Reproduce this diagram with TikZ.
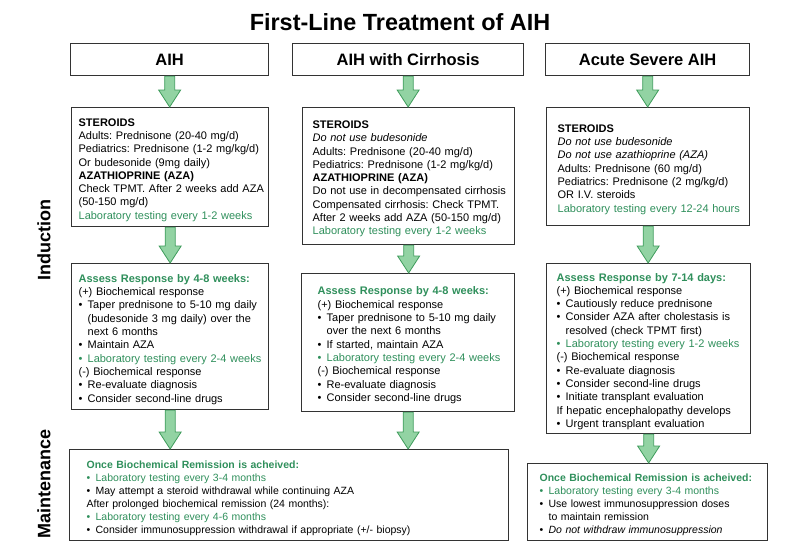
\documentclass[tikz,border=0pt]{standalone}
\usepackage{fontspec}
\setmainfont{Liberation Sans}
\usepackage{tikz}
\usepackage{xcolor}
\usetikzlibrary{calc}
\definecolor{gr}{HTML}{2F8F5B}
\definecolor{af}{HTML}{92D3A3}
\definecolor{ad}{HTML}{3F9C5C}
\definecolor{bd}{HTML}{333333}
\setlength{\parindent}{0pt}
\frenchspacing
\newcommand{\lne}[2][black]{\par\leavevmode\mbox{\color{#1}#2}}
\newcommand{\bul}[2][black]{\par\leavevmode\mbox{\color{#1}\makebox[9pt][l]{\textbullet}#2}}
\newcommand{\bcont}[1]{\par\leavevmode\mbox{\hspace*{9pt}#1}}

\begin{document}
\begin{tikzpicture}[x=1pt,y=-1pt,
    box/.style={draw=bd,line width=1.3pt,anchor=north west,align=left,inner ysep=0pt,font=\fontsize{11}{13.3}\selectfont},
    mbox/.style={box,font=\fontsize{10.5}{13}\selectfont},
    head/.style={draw=bd,line width=1.3pt,anchor=north west,inner sep=0pt,minimum height=32pt,font=\fontsize{16.5}{20}\selectfont\bfseries},
    side/.style={rotate=90,font=\fontsize{18}{20}\selectfont\bfseries},
    garrow/.style={fill=af,draw=ad,line width=0.8pt,line join=miter}]
\useasboundingbox (0,0) rectangle (800,547);

\node[font=\fontsize{23.4}{26}\selectfont\bfseries] (ttl) at (400,22) {First-Line Treatment of AIH};
\node[side] (ind) at (44,240) {Induction};
\node[side] (mnt) at (44,484) {Maintenance};

\node[head,minimum width=198pt] (haih) at (70,43) {AIH};
\node[head,minimum width=231pt] (hcir) at (292,43) {AIH with Cirrhosis};
\node[head,minimum width=204pt] (hacu) at (545,43) {Acute Severe AIH};

\node[box,inner xsep=7pt,text width=183pt,minimum height=119pt] (iaih) at (71,107) {
  \lne{\textbf{STEROIDS}}
  \lne{Adults: Prednisone (20-40 mg/d)}
  \lne{Pediatrics: Prednisone (1-2 mg/kg/d)}
  \lne{Or budesonide (9mg daily)}
  \lne{\textbf{AZATHIOPRINE (AZA)}}
  \lne{Check TPMT. After 2 weeks add AZA}
  \lne{(50-150 mg/d)}
  \lne[gr]{Laboratory testing every 1-2 weeks}};
\node[box,inner xsep=10pt,text width=192pt,minimum height=137pt] (icir) at (302,107) {
  \lne{\textbf{STEROIDS}}
  \lne{\textit{Do not use budesonide}}
  \lne{Adults: Prednisone (20-40 mg/d)}
  \lne{Pediatrics: Prednisone (1-2 mg/kg/d)}
  \lne{\textbf{AZATHIOPRINE (AZA)}}
  \lne{Do not use in decompensated cirrhosis}
  \lne{Compensated cirrhosis: Check TPMT.}
  \lne{After 2 weeks add AZA (50-150 mg/d)}
  \lne[gr]{Laboratory testing every 1-2 weeks}};
\node[box,inner xsep=11pt,text width=181pt,minimum height=118pt] (iacu) at (546,107) {
  \lne{\textbf{STEROIDS}}
  \lne{\textit{Do not use budesonide}}
  \lne{\textit{Do not use azathioprine (AZA)}}
  \lne{Adults: Prednisone (60 mg/d)}
  \lne{Pediatrics: Prednisone (2 mg/kg/d)}
  \lne{OR I.V. steroids}
  \lne[gr]{Laboratory testing every 12-24 hours}};

\node[box,inner xsep=7pt,text width=183pt,minimum height=146pt] (raih) at (71,263) {
  \lne[gr]{\textbf{Assess Response by 4-8 weeks:}}
  \lne{(+) Biochemical response}
  \bul{Taper prednisone to 5-10 mg daily}
  \bcont{(budesonide 3 mg daily) over the}
  \bcont{next 6 months}
  \bul{Maintain AZA}
  \bul[gr]{Laboratory testing every 2-4 weeks}
  \lne{(-) Biochemical response}
  \bul{Re-evaluate diagnosis}
  \bul{Consider second-line drugs}};
\node[box,inner xsep=16pt,text width=181pt,minimum height=138pt] (rcir) at (301,273) {
  \lne[gr]{\textbf{Assess Response by 4-8 weeks:}}
  \lne{(+) Biochemical response}
  \bul{Taper prednisone to 5-10 mg daily}
  \bcont{over the next 6 months}
  \bul{If started, maintain AZA}
  \bul[gr]{Laboratory testing every 2-4 weeks}
  \lne{(-) Biochemical response}
  \bul{Re-evaluate diagnosis}
  \bul{Consider second-line drugs}};
\node[box,inner xsep=10pt,text width=184pt,minimum height=170pt] (racu) at (546,263) {
  \lne[gr]{\textbf{Assess Response by 7-14 days:}}
  \lne{(+) Biochemical response}
  \bul{Cautiously reduce prednisone}
  \bul{Consider AZA after cholestasis is}
  \bcont{resolved (check TPMT first)}
  \bul[gr]{Laboratory testing every 1-2 weeks}
  \lne{(-) Biochemical response}
  \bul{Re-evaluate diagnosis}
  \bul{Consider second-line drugs}
  \bul{Initiate transplant evaluation}
  \lne{If hepatic encephalopathy develops}
  \bul{Urgent transplant evaluation}};

\node[mbox,inner xsep=17pt,text width=405pt,minimum height=91pt] (mboth) at (69,449) {
  \lne[gr]{\textbf{Once Biochemical Remission is acheived:}}
  \bul[gr]{Laboratory testing every 3-4 months}
  \bul{May attempt a steroid withdrawal while continuing AZA}
  \lne{After prolonged biochemical remission (24 months):}
  \bul[gr]{Laboratory testing every 4-6 months}
  \bul{Consider immunosuppression withdrawal if appropriate (+/- biopsy)}};
\node[mbox,inner xsep=12pt,text width=216pt,minimum height=77pt] (macu) at (527,463) {
  \lne[gr]{\textbf{Once Biochemical Remission is acheived:}}
  \bul[gr]{Laboratory testing every 3-4 months}
  \bul{Use lowest immunosuppression doses}
  \bcont{to maintain remission}
  \bul{\textit{Do not withdraw immunosuppression}}};

\foreach \a/\b in {haih/iaih,hcir/icir,hacu/iacu,iaih/raih,icir/rcir,iacu/racu,raih/mboth,rcir/mboth,racu/macu}
  \filldraw[garrow] let \p1=(\a.south), \p2=(\b.north) in
    (\x1-5,\y1) -- (\x1-5,\y2+17) -- (\x1-11,\y2+17) -- (\x1,\y2) -- (\x1+11,\y2+17) -- (\x1+5,\y2+17) -- (\x1+5,\y1) -- cycle;
\end{tikzpicture}
\end{document}
